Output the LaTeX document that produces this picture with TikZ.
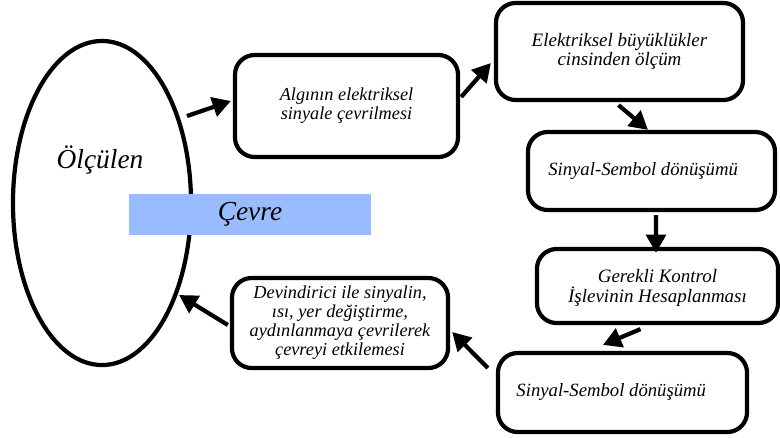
\documentclass[tikz,border=0pt]{standalone}
\usepackage{fontspec}
\setmainfont{Liberation Serif}
\usepackage{tikz}
\usetikzlibrary{arrows.meta,calc,shapes.geometric}
\definecolor{mycevrecolor}{HTML}{99BBFF}

\tikzset{%
  stagebox/.style={draw, line width=3pt, rounded corners=14pt, fill=white, rectangle, align=center, inner sep=0pt,
    font=\fontsize{13pt}{13.5pt}\selectfont\itshape},
  bigtext/.style={font=\fontsize{13.3pt}{13.5pt}\selectfont\itshape},
  flowarrow/.style={line width=3pt, -{Triangle[length=13pt, width=14pt]}},
}

\begin{document}
\begin{tikzpicture}[x=0.025cm, y=-0.025cm]%
\useasboundingbox (0,0) rectangle (780,437);%
% left side
\node[draw, line width=3pt, ellipse, minimum width=4.45cm, minimum height=8.1cm, inner sep=0pt] (olculen) at (102, 203) {};%
\node (olculentext) at (100, 160) {\fontsize{19.5pt}{19.5pt}\selectfont\itshape Ölçülen};%
\node[fill=mycevrecolor, rectangle, minimum width=6.05cm, minimum height=1.025cm, inner sep=0pt] (cevre) at (250, 214.5) {\fontsize{19.5pt}{19.5pt}\selectfont\itshape Çevre};%
% stages
\node[stagebox, minimum width=5.575cm, minimum height=2.55cm] (algi) at (346.5, 106) {Algının elektriksel\hspace{11pt}\\sinyale çevrilmesi\hspace{11pt}};%
\node[stagebox, font=\fontsize{13.5pt}{13.5pt}\selectfont\itshape, minimum width=6.175cm, minimum height=2.425cm] (olcum) at (619.5, 51.5) {Elektriksel büyüklükler\hspace{7pt}\\cinsinden ölçüm\hspace{7pt}};%
\node[stagebox, bigtext, minimum width=6.175cm, minimum height=1.95cm] (sembolA) at (651.5, 171) {Sinyal-Sembol dönüşümü\hspace{12pt}};%
\node[stagebox, font=\fontsize{13.5pt}{14pt}\selectfont\itshape, minimum width=6.025cm, minimum height=1.85cm] (kontrol) at (657.5, 286) {\rule{0pt}{12pt}Gerekli Kontrol\hspace{8.5pt}\\İşlevinin Hesaplanması\hspace{8.5pt}};%
\node[stagebox, bigtext, minimum width=6.225cm, minimum height=1.975cm] (sembolB) at (622.5, 392.5) {Sinyal-Sembol dönüşümü\hspace{16pt}};%
\node[stagebox, minimum width=5.4cm, minimum height=2.25cm] (devindirici) at (340, 323) {Devindirici ile sinyalin,\hspace{14pt}\\ısı, yer değiştirme,\hspace{14pt}\\aydınlanmaya çevrilerek\hspace{14pt}\\çevreyi etkilemesi\hspace{14pt}};%
% arrows
\draw[flowarrow] ($(olculen.center)+(85,-87)$) -- ($(algi.west)+(-2,-5)$);%
\draw[flowarrow] ($(algi.east)+(1,-9)$) -- ($(olcum.west)+(-3,11.5)$);%
\draw[flowarrow] ($(olcum.south)+(-1,3)$) -- ($(sembolA.north)+(-3.5,0)$);%
\draw[flowarrow] ($(sembolA.south)+(4.5,3)$) -- ($(kontrol.north)+(-1.5,6)$);%
\draw[flowarrow] ($(kontrol.south)+(-17,4)$) -- ($(sembolB.north)+(-19.5,-6)$);%
\draw[flowarrow] ($(sembolB.west)+(-8,-24.5)$) -- ($(devindirici.east)+(2,9)$);%
\draw[flowarrow] ($(devindirici.west)+(-2,2)$) -- ($(olculen.center)+(77,92)$);%
\end{tikzpicture}
\end{document}
